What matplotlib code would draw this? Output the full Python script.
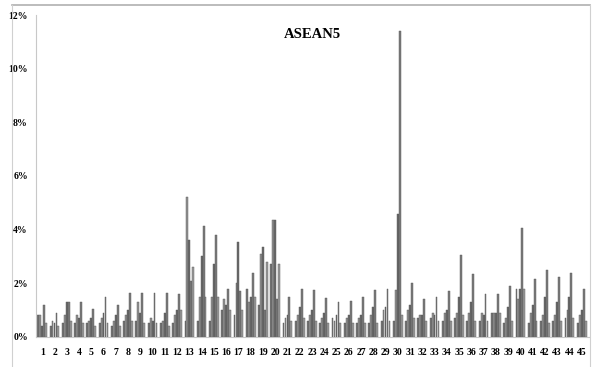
import matplotlib.pyplot as plt
import numpy as np
from matplotlib.lines import Line2D

groups = list(range(1, 46))

# five series per group, in percent
s1 = [0.8, 0.4, 0.5, 0.5, 0.5, 0.5, 0.4, 0.6, 0.6, 0.5, 0.5, 0.5, 0.6, 0.6, 0.6,
      1.0, 0.8, 1.8, 1.2, 2.7, 0.5, 0.6, 0.6, 0.5, 0.7, 0.5, 0.5, 0.5, 0.6, 0.6,
      0.6, 0.7, 0.7, 0.6, 0.7, 0.6, 0.6, 0.9, 0.5, 1.8, 0.5, 0.6, 0.6, 0.7, 0.5]
s2 = [0.8, 0.6, 0.8, 0.8, 0.6, 0.7, 0.6, 0.8, 1.3, 0.7, 0.6, 0.8, 5.2, 1.5, 1.5,
      1.4, 2.0, 1.3, 3.1, 4.35, 0.7, 0.8, 0.8, 0.7, 0.6, 0.7, 0.7, 0.8, 1.0, 1.75,
      1.0, 0.8, 0.9, 0.9, 0.9, 0.9, 0.9, 0.9, 0.7, 1.4, 0.9, 0.8, 0.8, 1.0, 0.8]
s3 = [0.4, 0.5, 1.3, 0.7, 0.7, 0.9, 0.8, 1.0, 0.9, 0.6, 0.9, 1.0, 3.6, 3.0, 2.7,
      1.2, 3.55, 1.5, 3.35, 4.35, 0.8, 1.1, 1.0, 0.9, 0.8, 0.8, 0.8, 1.1, 1.1, 4.6,
      1.2, 0.8, 0.8, 1.0, 1.5, 1.3, 0.8, 0.9, 1.1, 1.8, 1.2, 1.5, 1.3, 1.5, 1.0]
s4 = [1.2, 0.9, 1.3, 1.3, 1.05, 1.5, 1.2, 1.65, 1.65, 1.65, 1.65, 1.6, 2.1, 4.15, 3.8,
      1.8, 1.7, 2.4, 1.0, 1.4, 1.5, 1.8, 1.75, 1.45, 1.3, 1.35, 1.5, 1.75, 1.8, 11.4,
      2.0, 1.4, 1.5, 1.7, 3.05, 2.35, 1.6, 1.6, 1.9, 4.05, 2.15, 2.5, 2.25, 2.4, 1.8]
s5 = [0.5, 0.4, 0.6, 0.5, 0.4, 0.5, 0.4, 0.6, 0.5, 0.5, 0.4, 1.0, 2.6, 1.5, 1.5,
      1.0, 1.0, 1.5, 2.8, 2.7, 0.6, 0.7, 0.6, 0.5, 0.5, 0.5, 0.5, 0.5, 0.6, 0.8,
      0.7, 0.6, 0.6, 0.6, 0.8, 0.6, 0.6, 0.9, 0.6, 1.8, 0.6, 0.5, 0.6, 0.7, 0.6]

series = [s1, s2, s3, s4, s5]
shades = ["#787878", "#949494", "#6a6a6a", "#7c7c7c", "#9c9c9c"]

fig = plt.figure(figsize=(5.92, 3.67), dpi=100)
ax = fig.add_axes([0.061, 0.082, 0.934, 0.877])

x = np.array(groups)
w = 0.16
for k, (vals, col) in enumerate(zip(series, shades)):
    ax.bar(x + (k - 2) * w, vals, width=w * 0.95, color=col,
           edgecolor="#555555", linewidth=0.3)

ax.set_xlim(0.5, 45.6)
ax.set_ylim(0, 12)
ax.set_yticks(np.arange(0, 13, 2))
ax.set_yticklabels([f"{v}%" for v in range(0, 13, 2)],
                   fontfamily="Liberation Serif", fontweight="bold", fontsize=7)
ax.set_xticks(x)
ax.set_xticklabels([str(g) for g in groups],
                   fontfamily="Liberation Serif", fontweight="bold", fontsize=7)
ax.tick_params(axis="x", length=0, pad=8)
ax.tick_params(axis="y", length=0, pad=6)

for side in ["top", "right"]:
    ax.spines[side].set_visible(False)
ax.spines["left"].set_color("#c8c8c8")
ax.spines["bottom"].set_color("#c8c8c8")

ax.text(0.5, 0.94, "ASEAN5", transform=ax.transAxes, ha="center", va="center",
        fontfamily="Liberation Serif", fontweight="bold", fontsize=10.5)

# outer frame lines (top, left, right)
fig.add_artist(Line2D([0.02, 0.997], [0.987, 0.987], color="#b0b0b0", lw=1.2))
fig.add_artist(Line2D([0.02, 0.02], [0.0, 0.987], color="#d0d0d0", lw=0.8))
fig.add_artist(Line2D([0.997, 0.997], [0.0, 0.987], color="#d0d0d0", lw=0.8))

fig.savefig("out.png", dpi=100)
